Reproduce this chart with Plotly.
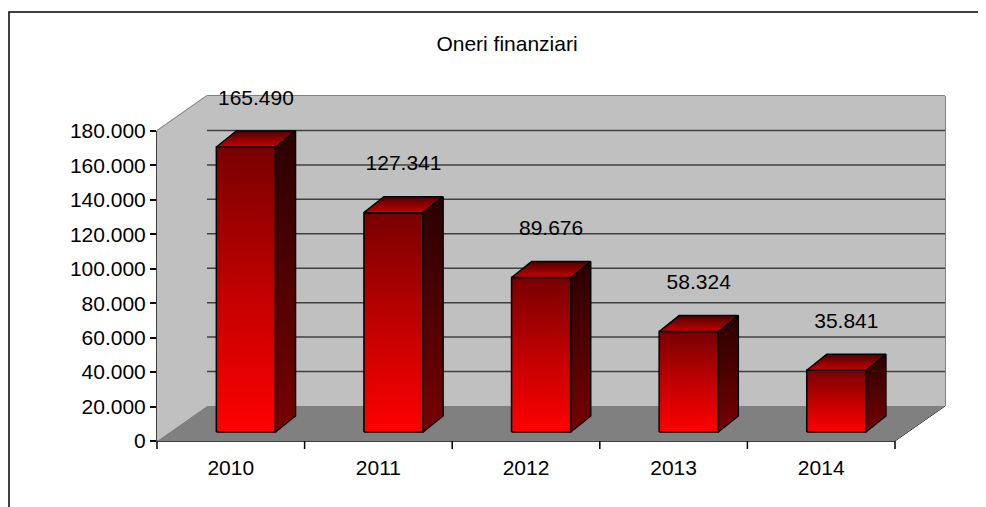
import plotly.graph_objects as go

# ---------------- data ----------------
years = ["2010", "2011", "2012", "2013", "2014"]
values = [165490, 127341, 89676, 58324, 35841]
y_tick_values = [0, 20000, 40000, 60000, 80000, 100000, 120000, 140000, 160000, 180000]
y_tick_labels = ["0", "20.000", "40.000", "60.000", "80.000", "100.000",
                 "120.000", "140.000", "160.000", "180.000"]
title_text = "Oneri finanziari"

# ---------------- layout geometry ----------------
W, H = 986, 507
OFF = 8                                # default page body margin
L = 157 - OFF
T = 96 - OFF
R = W - (945 - OFF)
B = H - (441 - OFF)
PW, PH = W - L - R, H - T - B
X_UNIT_PX = 147.6                     # pixels per category
Y_PER_PX = 180000 / 310.0             # value units per pixel
XR = [-0.5, -0.5 + PW / X_UNIT_PX]
YR = [0, PH * Y_PER_PX]

FLOOR_DX = XR[1] - 4.5                # 3D depth of the box
FLOOR_DY = YR[1] - 180000

BAR_L, BAR_R = -0.098, 0.303          # front face relative to category centre
BAR_DX = 20 / X_UNIT_PX               # bar depth
BAR_DY = 16 * Y_PER_PX
BAR_BASE = 9 * Y_PER_PX
LABEL_GAP = 21 * Y_PER_PX

FONT = "Arial, 'Liberation Sans', sans-serif"
FS = 21


def paper_x(x):
    return (x - XR[0]) / (XR[1] - XR[0])


def paper_y(y):
    return (y - YR[0]) / (YR[1] - YR[0])


shapes = []
# back wall
shapes.append(dict(type="rect", xref="x", yref="y", layer="below",
                   x0=-0.5 + FLOOR_DX, x1=XR[1], y0=FLOOR_DY, y1=YR[1],
                   fillcolor="#C0C0C0", line=dict(width=0)))
# left wall
shapes.append(dict(type="path", xref="x", yref="y", layer="below",
                   path=f"M {-0.5} 0 L {-0.5 + FLOOR_DX} {FLOOR_DY} L {-0.5 + FLOOR_DX} {YR[1]} "
                        f"L {-0.5} {y_tick_values[-1]} Z",
                   fillcolor="#C0C0C0", line=dict(width=0)))
# floor
shapes.append(dict(type="path", xref="x", yref="y", layer="below",
                   path=f"M {-0.5} 0 L {4.5} 0 L {4.5 + FLOOR_DX} {FLOOR_DY} "
                        f"L {-0.5 + FLOOR_DX} {FLOOR_DY} Z",
                   fillcolor="#808080", line=dict(width=0)))
# gridlines
for v in y_tick_values[1:-1]:
    shapes.append(dict(type="line", xref="x", yref="y", layer="below",
                       x0=-0.5 + FLOOR_DX, x1=XR[1], y0=v + FLOOR_DY, y1=v + FLOOR_DY,
                       line=dict(color="#404040", width=1.5)))
    shapes.append(dict(type="line", xref="paper", yref="paper", layer="below",
                       x0=paper_x(-0.5), x1=paper_x(-0.5 + FLOOR_DX),
                       y0=paper_y(v), y1=paper_y(v + FLOOR_DY),
                       line=dict(color="#000000", width=1)))
# grey wall edges
grey = dict(color="#808080", width=2)
for (xa, ya, xb, yb) in [
    (-0.5 + FLOOR_DX, YR[1], XR[1], YR[1]),
    (XR[1], FLOOR_DY, XR[1], YR[1]),
    (-0.5 + FLOOR_DX, FLOOR_DY, -0.5 + FLOOR_DX, YR[1]),
    (-0.5, y_tick_values[-1], -0.5 + FLOOR_DX, YR[1]),
]:
    shapes.append(dict(type="line", xref="paper", yref="paper", layer="below",
                       x0=paper_x(xa), x1=paper_x(xb), y0=paper_y(ya), y1=paper_y(yb),
                       line=grey))
# floor right edge
shapes.append(dict(type="line", xref="paper", yref="paper", layer="below",
                   x0=paper_x(4.5), x1=paper_x(4.5 + FLOOR_DX),
                   y0=paper_y(0), y1=paper_y(FLOOR_DY),
                   line=dict(color="#000000", width=1)))
# y axis line
shapes.append(dict(type="line", xref="paper", yref="paper", layer="below",
                   x0=paper_x(-0.5), x1=paper_x(-0.5), y0=paper_y(0),
                   y1=paper_y(y_tick_values[-1]),
                   line=dict(color="#000000", width=1.5)))
# x axis line
shapes.append(dict(type="line", xref="paper", yref="paper", layer="below",
                   x0=paper_x(-0.5), x1=paper_x(4.5), y0=paper_y(0), y1=paper_y(0),
                   line=dict(color="#000000", width=1.5)))
# x category boundary ticks
for i in range(len(years) + 1):
    xb = i - 0.5
    shapes.append(dict(type="line", xref="paper", yref="paper", layer="below",
                       x0=paper_x(xb), x1=paper_x(xb), y0=0, y1=-8 / PH,
                       line=dict(color="#000000", width=1.5)))
# outer chart frame
shapes.append(dict(type="rect", xref="paper", yref="paper", layer="below",
                   x0=(1 - L) / PW, x1=(W + 20 - L) / PW,
                   y0=-(B + 20) / PH, y1=(H - (12 - OFF) - B) / PH,
                   line=dict(color="#000000", width=1.5), fillcolor="rgba(0,0,0,0)"))

fig = go.Figure()

front_cs = [[0, "#FF0000"], [0.5, "#C00000"], [1, "#780000"]]
side_cs = [[0, "#780000"], [1, "#2A0000"]]
top_cs = [[0, "#C80000"], [1, "#500000"]]
outline = dict(color="#000000", width=1.5)

for i, v in enumerate(values):
    xl, xr = i + BAR_L, i + BAR_R
    yb, yt = BAR_BASE, BAR_BASE + v
    # front face
    fig.add_trace(go.Scatter(
        x=[xl, xr, xr, xl, xl], y=[yb, yb, yt, yt, yb], mode="lines",
        fill="toself", fillgradient=dict(type="vertical", colorscale=front_cs),
        line=outline, hoverinfo="skip", showlegend=False))
    # side face
    fig.add_trace(go.Scatter(
        x=[xr, xr + BAR_DX, xr + BAR_DX, xr, xr],
        y=[yb, yb + BAR_DY, yt + BAR_DY, yt, yb], mode="lines",
        fill="toself", fillgradient=dict(type="vertical", colorscale=side_cs),
        line=outline, hoverinfo="skip", showlegend=False))
    # top face
    fig.add_trace(go.Scatter(
        x=[xl, xr, xr + BAR_DX, xl + BAR_DX, xl],
        y=[yt, yt, yt + BAR_DY, yt + BAR_DY, yt], mode="lines",
        fill="toself", fillgradient=dict(type="vertical", colorscale=top_cs),
        line=outline, hoverinfo="skip", showlegend=False))

# value labels (anchored inside the axis range, text drawn above the anchor)
fig.add_trace(go.Scatter(
    x=[i + (BAR_L + BAR_R + BAR_DX) / 2 for i in range(len(values))],
    y=[v + BAR_BASE + BAR_DY + LABEL_GAP for v in values],
    mode="text", text=[f"{v:,}".replace(",", ".") for v in values],
    textposition="top center", cliponaxis=False,
    textfont=dict(family=FONT, size=FS, color="#000000"),
    hoverinfo="skip", showlegend=False))

fig.update_layout(
    width=W, height=H,
    margin=dict(l=L, r=R, t=T, b=B, autoexpand=False),
    paper_bgcolor="#FFFFFF", plot_bgcolor="#FFFFFF",
    font=dict(family=FONT, size=FS, color="#000000"),
    title=dict(text=title_text, x=(507 - OFF) / W, y=1 - (44 - OFF) / H,
               xref="container", yref="container",
               xanchor="center", yanchor="middle",
               font=dict(family=FONT, size=FS, color="#000000")),
    shapes=shapes,
    xaxis=dict(range=XR, tickvals=list(range(len(years))), ticktext=years,
               ticks="outside", ticklen=8, tickcolor="rgba(0,0,0,0)",
               showgrid=False, zeroline=False, showline=False, fixedrange=True,
               tickfont=dict(family=FONT, size=FS, color="#000000")),
    yaxis=dict(range=YR, tickvals=y_tick_values, ticktext=y_tick_labels,
               ticks="outside", ticklen=6, tickwidth=1.5, tickcolor="#000000",
               showgrid=False, zeroline=False, showline=False, fixedrange=True,
               tickfont=dict(family=FONT, size=FS, color="#000000")),
)

fig.write_html("out.html")
